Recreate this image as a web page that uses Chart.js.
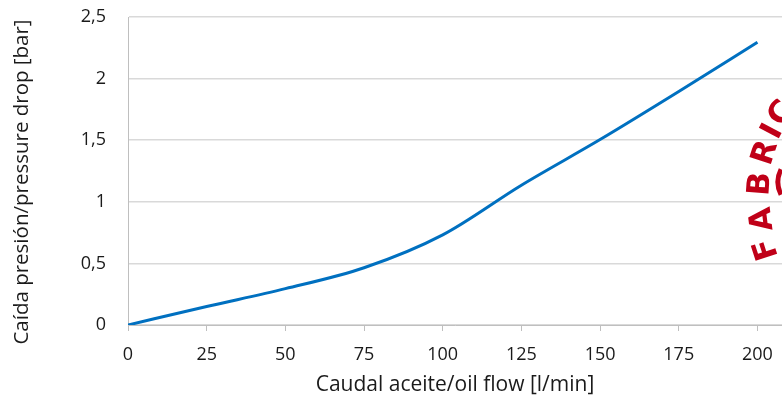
<!DOCTYPE html>
<html>
<head>
<meta charset="utf-8">
<script src="https://cdn.jsdelivr.net/npm/chart.js@4/dist/chart.umd.min.js"></script>
<style>
  html, body { margin: 0; padding: 0; background: #ffffff; overflow: hidden; }
  #wrap { width: 782px; height: 400px; position: relative; }
</style>
</head>
<body>
<div id="wrap"><canvas id="c" width="782" height="400"></canvas></div>
<script>
// Data
const flowValues = [0, 25, 50, 75, 100, 125, 150, 175, 200];          // l/min
const pressureDrop = [0, 0.15, 0.295, 0.465, 0.732, 1.135, 1.505, 1.895, 2.295]; // bar
const yTickValues = [0, 0.5, 1, 1.5, 2, 2.5];
const xTickValues = [0, 25, 50, 75, 100, 125, 150, 175, 200];
const xTitle = 'Caudal aceite/oil flow [l/min]';
const yTitle = 'Caída presión/pressure drop [bar]';
const watermarkLetters = ['F', 'A', 'B', 'R', 'I', 'C'];

const FONT = '"Open Sans", Lato, "DejaVu Sans", sans-serif';
const TEXT = '#1a1a1a';

const points = flowValues.map((x, i) => ({ x: x, y: pressureDrop[i] }));

const decorPlugin = {
  id: 'decor',
  afterDraw(chart) {
    const ctx = chart.ctx;
    ctx.save();
    // y-axis title
    ctx.translate(22, 182);
    ctx.rotate(-Math.PI / 2);
    ctx.fillStyle = TEXT;
    ctx.font = '20.5px ' + FONT;
    ctx.textAlign = 'center';
    ctx.textBaseline = 'middle';
    ctx.fillText(yTitle, 0, 0);
    ctx.restore();

    // partial red logo watermark at the right edge
    const spots = [
      [767, 249, -108], [763, 219, -97], [761, 184, -86],
      [766, 153, -72], [773, 132, -62], [782, 114, -52]
    ];
    ctx.save();
    ctx.fillStyle = '#C00018';
    ctx.font = 'bold 31px "DejaVu Sans", sans-serif';
    ctx.textAlign = 'center';
    ctx.textBaseline = 'middle';
    watermarkLetters.forEach((ch, i) => {
      const s = spots[i];
      ctx.save();
      ctx.translate(s[0], s[1]);
      ctx.rotate(s[2] * Math.PI / 180);
      ctx.fillText(ch, 0, 0);
      ctx.restore();
    });
    ctx.strokeStyle = '#C00018';
    ctx.lineWidth = 5;
    ctx.beginPath();
    ctx.arc(806, 182, 28, Math.PI * 0.85, Math.PI * 1.15);
    ctx.stroke();
    ctx.restore();
  }
};

new Chart(document.getElementById('c'), {
  type: 'line',
  data: {
    datasets: [{
      data: points,
      borderColor: '#0070C0',
      borderWidth: 3,
      pointRadius: 0,
      fill: false,
      cubicInterpolationMode: 'monotone'
    }]
  },
  options: {
    responsive: false,
    animation: false,
    devicePixelRatio: 1,
    layout: { padding: { left: 0, right: 0, top: 17, bottom: 0 } },
    plugins: { legend: { display: false }, tooltip: { enabled: false } },
    scales: {
      x: {
        type: 'linear',
        min: 0,
        max: 207.8,
        afterBuildTicks: (s) => { s.ticks = xTickValues.map(v => ({ value: v })); },
        afterFit: (s) => { s.height = 75; s.paddingLeft = 0; s.paddingRight = 0; },
        border: { color: '#BFBFBF', width: 1 },
        grid: { drawOnChartArea: false, drawTicks: true, tickLength: 6, color: '#BFBFBF' },
        ticks: {
          color: TEXT,
          font: { family: FONT, size: 18 },
          padding: 13,
          maxRotation: 0,
          autoSkip: false,
          callback: (v) => String(v)
        },
        title: {
          display: true,
          text: xTitle,
          color: TEXT,
          font: { family: FONT, size: 21 },
          padding: { top: 0, bottom: 2 }
        }
      },
      y: {
        min: 0,
        max: 2.5,
        afterBuildTicks: (s) => { s.ticks = yTickValues.map(v => ({ value: v })); },
        afterFit: (s) => { s.width = 128; s.paddingTop = 0; s.paddingBottom = 0; },
        border: { color: '#BFBFBF', width: 1 },
        grid: { color: '#D9D9D9', lineWidth: 1.5, drawTicks: false },
        ticks: {
          color: TEXT,
          font: { family: FONT, size: 18 },
          padding: 22,
          callback: (v) => String(v).replace('.', ',')
        }
      }
    }
  },
  plugins: [decorPlugin]
});
</script>
</body>
</html>
